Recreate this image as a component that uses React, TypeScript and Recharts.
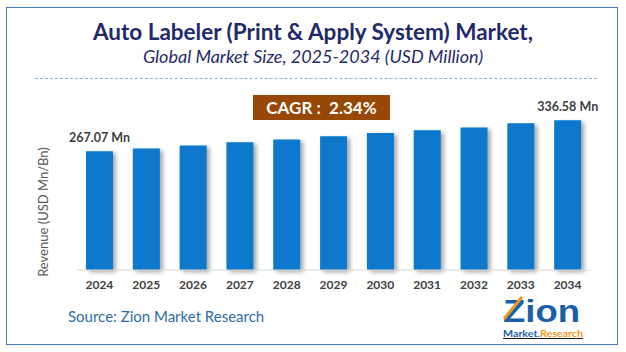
import React from "react";
import { BarChart, Bar, XAxis, YAxis, LabelList } from "recharts";

const years = ["2024", "2025", "2026", "2027", "2028", "2029", "2030", "2031", "2032", "2033", "2034"];
const revenue = [267.07, 273.1, 279.8, 287.2, 293.2, 300.6, 308.1, 314.1, 320.2, 329.8, 336.58];
const labeledYears = ["2024", "2034"];

const chartData = years.map((year, i) => ({ year, value: revenue[i] }));

const FONT = "Lato, 'Open Sans', sans-serif";

const BarLabel = (props: any) => {
  const { x, y, width, value, index } = props;
  if (!labeledYears.includes(years[index])) return null;
  return (
    <text x={x + width / 2} y={y - 9} textAnchor="middle" fill="#404040" fontSize={12.5} fontWeight={700} fontFamily={FONT}>
      {value.toFixed(2)} Mn
    </text>
  );
};

const App: React.FC = () => {
  return (
    <div style={{ position: "absolute", left: 0, top: 0, width: 626, height: 352, background: "#fff", fontFamily: FONT }}>
      <div style={{ position: "absolute", left: 6, top: 7, width: 612, height: 338, border: "1.5px solid #4a7ebb", boxSizing: "border-box" }} />
      <div style={{ position: "absolute", left: 0, top: 18, width: 626, textAlign: "center", fontSize: 22.5, fontWeight: 700, color: "#1f2a6b" }}>
        Auto Labeler (Print &amp; Apply System) Market,
      </div>
      <div style={{ position: "absolute", left: 0, top: 45, width: 626, textAlign: "center", fontSize: 18, fontStyle: "italic", color: "#1f2a6b" }}>
        Global Market Size, 2025-2034 (USD Million)
      </div>
      <div style={{ position: "absolute", left: 35, top: 78, width: 562, borderTop: "1px dashed #8fb0d8" }} />
      <div style={{ position: "absolute", left: 253, top: 95, width: 137, height: 25, background: "#974706", color: "#fff", fontSize: 17, fontWeight: 700, lineHeight: "25px", textAlign: "center" }}>
        CAGR :&nbsp; 2.34%
      </div>
      <div style={{ position: "absolute", left: 43, top: 212, width: 0, height: 0 }}>
        <div style={{ position: "absolute", transform: "translate(-50%, -50%) rotate(-90deg)", whiteSpace: "nowrap", fontSize: 13, color: "#595959" }}>
          Revenue (USD Mn/Bn)
        </div>
      </div>
      <div style={{ position: "absolute", left: 0, top: 0 }}>
        <BarChart width={626} height={352} data={chartData} margin={{ top: 92, right: 35, bottom: 52, left: 76 }}>
          <defs>
            <filter id="barShadow" x="-30%" y="-10%" width="160%" height="130%">
              <feDropShadow dx={3} dy={2} stdDeviation={2} floodColor="#000" floodOpacity={0.35} />
            </filter>
          </defs>
          <XAxis
            dataKey="year"
            axisLine={{ stroke: "#d9d9d9" }}
            tickLine={false}
            tickMargin={4}
            interval={0}
            tick={{ fill: "#404040", fontSize: 12, fontWeight: 700, fontFamily: FONT }}
          />
          <YAxis hide domain={[0, 400]} />
          <Bar dataKey="value" fill="#0878cc" barSize={27} isAnimationActive={false} style={{ filter: "url(#barShadow)" }}>
            <LabelList dataKey="value" content={BarLabel} />
          </Bar>
        </BarChart>
      </div>
      <div style={{ position: "absolute", left: 68, top: 307, fontSize: 15, color: "#2e6da4" }}>Source: Zion Market Research</div>
      <svg style={{ position: "absolute", left: 498, top: 288 }} width={95} height={54}>
        <text x={5} y={34} fontSize={32} fontWeight={700} fill="#1a5fa8" fontFamily="'Liberation Sans', Arial, sans-serif" textLength={77} lengthAdjust="spacingAndGlyphs">Zion</text>
        <line x1={6} y1={31} x2={24} y2={9} stroke="#f0961e" strokeWidth={3} />
        <text x={5} y={49} fontSize={9} fontWeight={700} fontFamily={FONT} textDecoration="underline" textLength={80} lengthAdjust="spacingAndGlyphs">
          <tspan fill="#1a5fa8">Market.</tspan>
          <tspan fill="#f0961e">Research</tspan>
        </text>
      </svg>
    </div>
  );
};

export default App;
